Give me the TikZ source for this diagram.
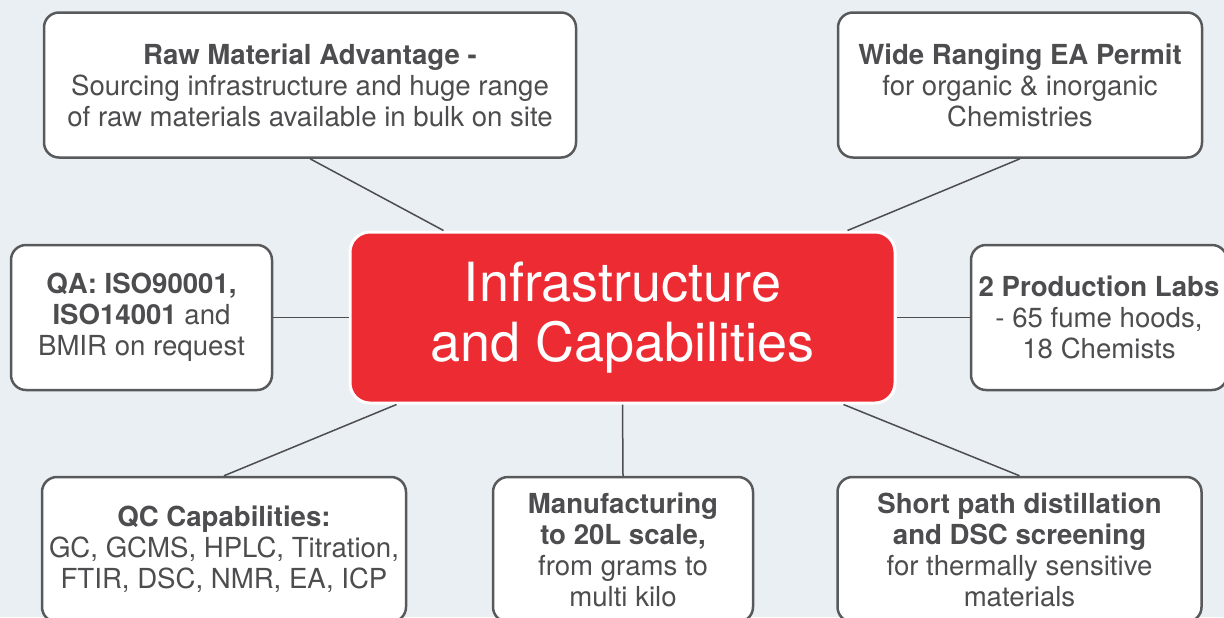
\documentclass[tikz,border=0pt]{standalone}
\usepackage{fontspec}
\setmainfont{TeX Gyre Heros}
\usepackage{xcolor}
\definecolor{hubred}{RGB}{237,43,51}
\definecolor{boxgray}{RGB}{88,89,91}
\definecolor{txtgray}{RGB}{77,77,79}
\definecolor{bggray}{RGB}{234,239,244}
\tikzset{
  infobox/.style={draw=boxgray, line width=1.25pt, fill=white, rounded corners=7.5pt,
    align=center, text=txtgray, font=\fontsize{13.8}{15.5}\selectfont, inner sep=0pt,
    minimum height=72.5pt},
  hub/.style={draw=white, line width=1.5pt, fill=hubred, rounded corners=10pt,
    align=center, text=white, font=\fontsize{27}{30}\selectfont, inner sep=0pt,
    minimum width=272.5pt, minimum height=85.5pt},
  link/.style={draw=txtgray, line width=0.75pt}
}
\begin{document}
\begin{tikzpicture}[x=0.5pt,y=-0.5pt]
\useasboundingbox (0,0) rectangle (1224,617);
\clip (0,0) rectangle (1224,617);
\fill[bggray] (0,0) rectangle (1224,617);

\node (C0) at (622.5,317.5) [hub] {Infrastructure\\and Capabilities};

\node (B1) at (310,85) [infobox, minimum width=266pt] {\textbf{Raw Material Advantage -}\\Sourcing infrastructure and huge range\\of raw materials available in bulk on site};
\node (B2) at (1020,85) [infobox, minimum width=182pt] {\textbf{Wide Ranging EA Permit}\\for organic \& inorganic\\Chemistries};
\node (B3) at (141.5,317.5) [infobox, minimum width=130.5pt] {\textbf{QA: ISO90001,}\\\textbf{ISO14001} and\\BMIR on request};
\node (B4) at (1099,317.5) [infobox, minimum width=128pt] {\textbf{2 Production Labs}\\- 65 fume hoods,\\18 Chemists};
\node (B5) at (224,549.5) [infobox, minimum width=182pt] {\textbf{QC Capabilities:}\\GC, GCMS, HPLC, Titration,\\FTIR, DSC, NMR, EA, ICP};
\node (B6) at (623,549.5) [infobox, minimum width=130pt] {\textbf{Manufacturing}\\\textbf{to 20L scale,}\\from grams to\\multi kilo};
\node (B7) at (1019.5,549.5) [infobox, minimum width=182pt] {\textbf{Short path distillation}\\\textbf{and DSC screening}\\for thermally sensitive\\materials};

\draw [link] (B1.south) -- ([xshift=47.5pt]C0.north west);
\draw [link] (B2.south) -- ([xshift=-24.5pt]C0.north east);
\draw [link] (B3.east) -- (C0.west);
\draw [link] (B4.west) -- (C0.east);
\draw [link] (B5.north) -- ([xshift=24pt]C0.south west);
\draw [link] (B6.north) -- (C0.south);
\draw [link] (B7.north) -- ([xshift=-26.5pt]C0.south east);
\end{tikzpicture}
\end{document}
